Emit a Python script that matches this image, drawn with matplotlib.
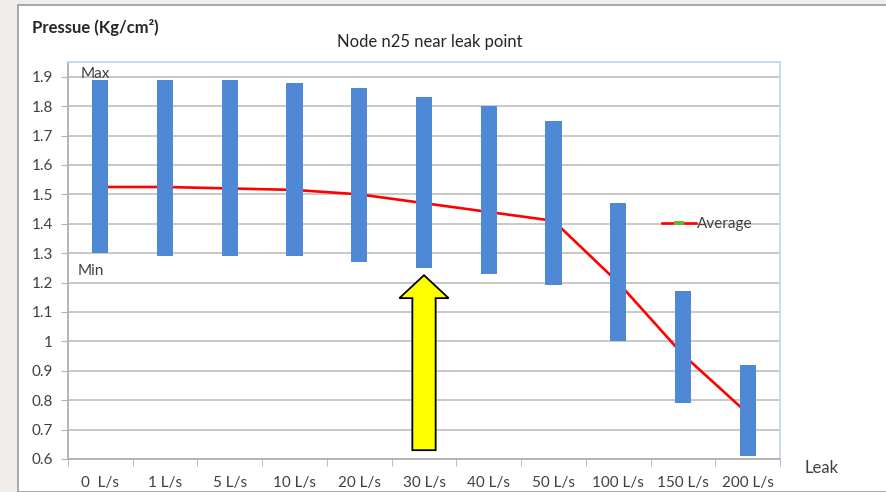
import matplotlib.pyplot as plt
from matplotlib.patches import FancyArrow, Rectangle
from matplotlib.lines import Line2D
import numpy as np

plt.rcParams['font.family'] = ['Lato', 'DejaVu Sans']

leaks = ["0  L/s", "1 L/s", "5 L/s", "10 L/s", "20 L/s", "30 L/s",
         "40 L/s", "50 L/s", "100 L/s", "150 L/s", "200 L/s"]
p_max = [1.89, 1.89, 1.89, 1.88, 1.86, 1.83, 1.80, 1.75, 1.47, 1.17, 0.92]
p_min = [1.30, 1.29, 1.29, 1.29, 1.27, 1.25, 1.23, 1.19, 1.00, 0.79, 0.61]
p_avg = [1.525, 1.525, 1.52, 1.515, 1.50, 1.47, 1.44, 1.41, 1.20, 0.955, 0.755]
yticks = [0.6, 0.7, 0.8, 0.9, 1.0, 1.1, 1.2, 1.3, 1.4, 1.5, 1.6, 1.7, 1.8, 1.9]
ytick_labels = ["0.6", "0.7", "0.8", "0.9", "1", "1.1", "1.2", "1.3",
                "1.4", "1.5", "1.6", "1.7", "1.8", "1.9"]
leak_node = "30 L/s"

fig = plt.figure(figsize=(8.86, 4.92), dpi=100)
fig.patch.set_facecolor('#efeeec')
# white chart sheet behind everything
fig.patches.append(Rectangle((18/886, 0), 1, 487/492, transform=fig.transFigure,
                             facecolor='white', edgecolor='#9a9a9a', linewidth=1.2,
                             zorder=-10))

ax = fig.add_axes([68/886, 33/492, 712/886, 397/492])
ax.set_zorder(1)
ax.patch.set_alpha(0)
x = np.arange(len(leaks))

ax.plot(x, p_avg, color='#ff0000', linewidth=1.9, zorder=2)
ax.bar(x, np.array(p_max) - np.array(p_min), bottom=p_min, width=0.25,
       color='#4f89d6', zorder=3)

ax.set_xlim(-0.5, len(leaks) - 0.5)
ax.set_ylim(0.6, 1.95)
ax.set_yticks(yticks)
ax.set_yticklabels(ytick_labels)
ax.set_xticks(x)
ax.set_xticklabels(leaks)
ax.set_xticks(np.arange(len(leaks) + 1) - 0.5, minor=True)
ax.tick_params(axis='x', which='major', length=0, pad=12, labelsize=11,
               labelcolor='#404040')
ax.tick_params(axis='x', which='minor', length=5, direction='out', color='#b0b0b0')
ax.tick_params(axis='y', length=5, color='#b0b0b0', pad=6, labelsize=11,
               labelcolor='#404040')
ax.yaxis.grid(True, color='#c4c4c4', linewidth=1.3, zorder=1)
ax.set_axisbelow(True)
for s in ['left', 'bottom']:
    ax.spines[s].set_color('#b0b0b0')
    ax.spines[s].set_linewidth(1.3)
for s in ['top', 'right']:
    ax.spines[s].set_color('#c5d7f1')
    ax.spines[s].set_linewidth(1.3)

# arrow pointing at the node near the leak
i = leaks.index(leak_node)
tip = p_min[i] - 0.025
tail = 0.63
ax.add_patch(FancyArrow(i, tail, 0, tip - tail, width=0.36, head_width=0.76,
                        head_length=0.078, length_includes_head=True,
                        facecolor='#ffff00', edgecolor='black', linewidth=1.3,
                        zorder=4))

ax.text(-0.3, 1.91, "Max", fontsize=11, color='#404040', va='center', ha='left')
ax.text(-0.35, 1.24, "Min", fontsize=11, color='#404040', va='center', ha='left')

avg_handle = Line2D([], [], color='#ff0000', linewidth=1.9, marker='_',
                    markeredgecolor='#70ad47', markeredgewidth=3, markersize=7)
ax.legend([avg_handle], ["Average"], loc='center left',
          bbox_to_anchor=(594/712, 1 - (224 - 62)/397), frameon=False,
          fontsize=11, handlelength=2.2, handletextpad=0.1, labelcolor='#404040',
          borderaxespad=0, borderpad=0)

fig.text(32/886, 1 - 28/492, "Pressue (Kg/cm\u00b2)", fontsize=12, fontweight='bold',
         color='#262626', va='center', ha='left')
fig.text(430/886, 1 - 42/492, "Node n25 near leak point", fontsize=12,
         color='#262626', va='center', ha='center')
fig.text(805/886, 1 - 468/492, "Leak", fontsize=12, color='#404040',
         va='center', ha='left')

fig.savefig('out.png', dpi=100, facecolor=fig.get_facecolor())
